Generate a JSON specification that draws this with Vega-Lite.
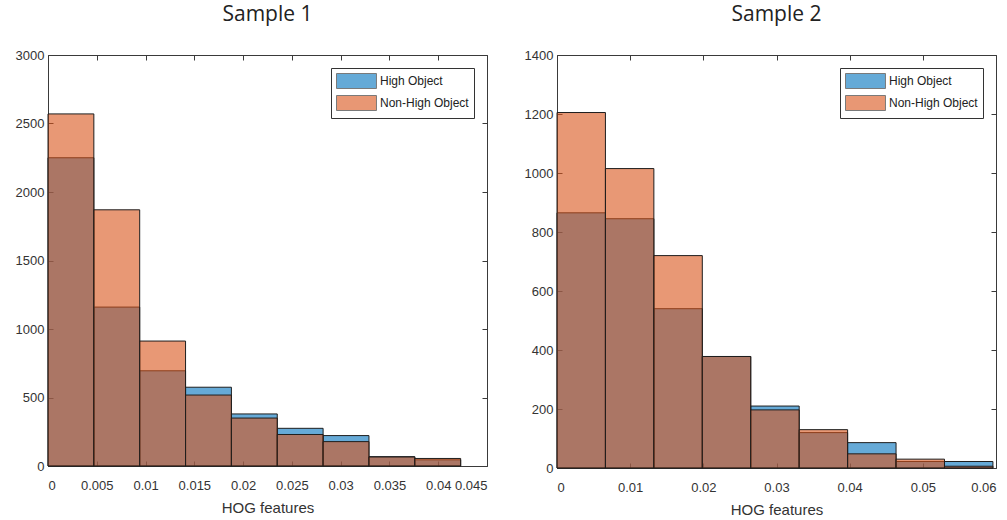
{
  "$schema": "https://vega.github.io/schema/vega-lite/v6.json",
  "background": "white",
  "padding": {"left": 14, "top": 3, "right": 5, "bottom": 5},
  "datasets": {
    "s1": [
      {"series": "High Object", "x0": 0, "x1": 0.0047, "count": 2250},
      {"series": "High Object", "x0": 0.0047, "x1": 0.0094, "count": 1160},
      {"series": "High Object", "x0": 0.0094, "x1": 0.0141, "count": 695},
      {"series": "High Object", "x0": 0.0141, "x1": 0.0188, "count": 575},
      {"series": "High Object", "x0": 0.0188, "x1": 0.0235, "count": 380},
      {"series": "High Object", "x0": 0.0235, "x1": 0.0282, "count": 275},
      {"series": "High Object", "x0": 0.0282, "x1": 0.0329, "count": 222},
      {"series": "High Object", "x0": 0.0329, "x1": 0.0376, "count": 68},
      {"series": "High Object", "x0": 0.0376, "x1": 0.0423, "count": 45},
      {"series": "Non-High Object", "x0": 0, "x1": 0.0047, "count": 2570},
      {"series": "Non-High Object", "x0": 0.0047, "x1": 0.0094, "count": 1870},
      {"series": "Non-High Object", "x0": 0.0094, "x1": 0.0141, "count": 912},
      {"series": "Non-High Object", "x0": 0.0141, "x1": 0.0188, "count": 518},
      {"series": "Non-High Object", "x0": 0.0188, "x1": 0.0235, "count": 350},
      {"series": "Non-High Object", "x0": 0.0235, "x1": 0.0282, "count": 230},
      {"series": "Non-High Object", "x0": 0.0282, "x1": 0.0329, "count": 178},
      {"series": "Non-High Object", "x0": 0.0329, "x1": 0.0376, "count": 66},
      {"series": "Non-High Object", "x0": 0.0376, "x1": 0.0423, "count": 55}
    ],
    "s2": [
      {"series": "High Object", "x0": 0, "x1": 0.00662, "count": 865},
      {"series": "High Object", "x0": 0.00662, "x1": 0.01324, "count": 845},
      {"series": "High Object", "x0": 0.01324, "x1": 0.01986, "count": 540},
      {"series": "High Object", "x0": 0.01986, "x1": 0.02648, "count": 378},
      {"series": "High Object", "x0": 0.02648, "x1": 0.0331, "count": 210},
      {"series": "High Object", "x0": 0.0331, "x1": 0.03972, "count": 120},
      {"series": "High Object", "x0": 0.03972, "x1": 0.04634, "count": 86},
      {"series": "High Object", "x0": 0.04634, "x1": 0.05296, "count": 22},
      {"series": "High Object", "x0": 0.05296, "x1": 0.05958, "count": 22},
      {"series": "Non-High Object", "x0": 0, "x1": 0.00662, "count": 1205},
      {"series": "Non-High Object", "x0": 0.00662, "x1": 0.01324, "count": 1015},
      {"series": "Non-High Object", "x0": 0.01324, "x1": 0.01986, "count": 720},
      {"series": "Non-High Object", "x0": 0.01986, "x1": 0.02648, "count": 378},
      {"series": "Non-High Object", "x0": 0.02648, "x1": 0.0331, "count": 197},
      {"series": "Non-High Object", "x0": 0.0331, "x1": 0.03972, "count": 130},
      {"series": "Non-High Object", "x0": 0.03972, "x1": 0.04634, "count": 48},
      {"series": "Non-High Object", "x0": 0.04634, "x1": 0.05296, "count": 30},
      {"series": "Non-High Object", "x0": 0.05296, "x1": 0.05958, "count": 6}
    ]
  },
  "config": {
    "view": {"stroke": "#3a3a3a", "strokeWidth": 1},
    "axis": {
      "domain": false, "grid": false, "tickSize": -5, "tickColor": "#3a3a3a",
      "labelFont": "Liberation Sans", "labelFontSize": 13, "labelColor": "#333",
      "titleFont": "Liberation Sans", "titleFontSize": 15, "titleFontWeight": "normal", "titleColor": "#333"
    },
    "title": {"font": "Open Sans", "fontSize": 21, "fontWeight": "normal", "color": "#222", "offset": 24},
    "legend": {
      "orient": "top-right", "offset": 13, "padding": 5, "rowPadding": 2,
      "strokeColor": "#333", "fillColor": "white",
      "labelFont": "Liberation Sans", "labelFontSize": 12, "labelColor": "#222",
      "symbolType": "M-1,-1H4.33V1H-1Z", "symbolSize": 225, "labelOffset": 28,
      "symbolStrokeColor": "#222", "symbolStrokeWidth": 1
    }
  },
  "resolve": {"scale": {"color": "independent"}},
  "spacing": 35,
  "hconcat": [
    {
      "title": "Sample 1",
      "width": 439, "height": 411,
      "data": {"name": "s1"},
      "layer": [
        {
          "mark": {"type": "bar", "fillOpacity": 0.6, "stroke": "#1e1e1e", "strokeWidth": 1},
          "encoding": {
            "x": {"field": "x0", "type": "quantitative", "scale": {"domain": [0, 0.045], "nice": false, "zero": false},
                  "axis": {"values": [0, 0.005, 0.01, 0.015, 0.02, 0.025, 0.03, 0.035, 0.04, 0.045], "format": "~g", "title": "HOG features", "labelPadding": 18, "titlePadding": 8}},
            "x2": {"field": "x1"},
            "y": {"field": "count", "type": "quantitative", "stack": null, "scale": {"domain": [0, 3000], "nice": false},
                  "axis": {"values": [0, 500, 1000, 1500, 2000, 2500, 3000], "format": "d", "title": null, "labelPadding": 9}},
            "y2": {"datum": 0},
            "color": {"field": "series", "type": "nominal",
                      "scale": {"domain": ["High Object", "Non-High Object"], "range": ["#0072BD", "#D95319"]},
                      "legend": {"title": null, "symbolOpacity": 0.6}}
          }
        },
        {
          "mark": {"type": "bar", "opacity": 0},
          "encoding": {
            "x": {"field": "x0", "type": "quantitative", "axis": {"orient": "top", "labels": false, "title": null, "values": [0, 0.005, 0.01, 0.015, 0.02, 0.025, 0.03, 0.035, 0.04, 0.045]}},
            "x2": {"field": "x1"},
            "y": {"field": "count", "type": "quantitative", "stack": null, "axis": {"orient": "right", "labels": false, "title": null, "values": [0, 500, 1000, 1500, 2000, 2500, 3000]}},
            "y2": {"datum": 0}
          }
        }
      ],
      "resolve": {"axis": {"x": "independent", "y": "independent"}}
    },
    {
      "title": "Sample 2",
      "width": 439, "height": 413,
      "data": {"name": "s2"},
      "layer": [
        {
          "mark": {"type": "bar", "fillOpacity": 0.6, "stroke": "#1e1e1e", "strokeWidth": 1},
          "encoding": {
            "x": {"field": "x0", "type": "quantitative", "scale": {"domain": [0, 0.06], "nice": false, "zero": false},
                  "axis": {"values": [0, 0.01, 0.02, 0.03, 0.04, 0.05, 0.06], "format": "~g", "title": "HOG features", "labelPadding": 18, "titlePadding": 8}},
            "x2": {"field": "x1"},
            "y": {"field": "count", "type": "quantitative", "stack": null, "scale": {"domain": [0, 1400], "nice": false},
                  "axis": {"values": [0, 200, 400, 600, 800, 1000, 1200, 1400], "format": "d", "title": null, "labelPadding": 9}},
            "y2": {"datum": 0},
            "color": {"field": "series", "type": "nominal",
                      "scale": {"domain": ["High Object", "Non-High Object"], "range": ["#0072BD", "#D95319"]},
                      "legend": {"title": null, "symbolOpacity": 0.6}}
          }
        },
        {
          "mark": {"type": "bar", "opacity": 0},
          "encoding": {
            "x": {"field": "x0", "type": "quantitative", "axis": {"orient": "top", "labels": false, "title": null, "values": [0, 0.01, 0.02, 0.03, 0.04, 0.05, 0.06]}},
            "x2": {"field": "x1"},
            "y": {"field": "count", "type": "quantitative", "stack": null, "axis": {"orient": "right", "labels": false, "title": null, "values": [0, 200, 400, 600, 800, 1000, 1200, 1400]}},
            "y2": {"datum": 0}
          }
        }
      ],
      "resolve": {"axis": {"x": "independent", "y": "independent"}}
    }
  ]
}
